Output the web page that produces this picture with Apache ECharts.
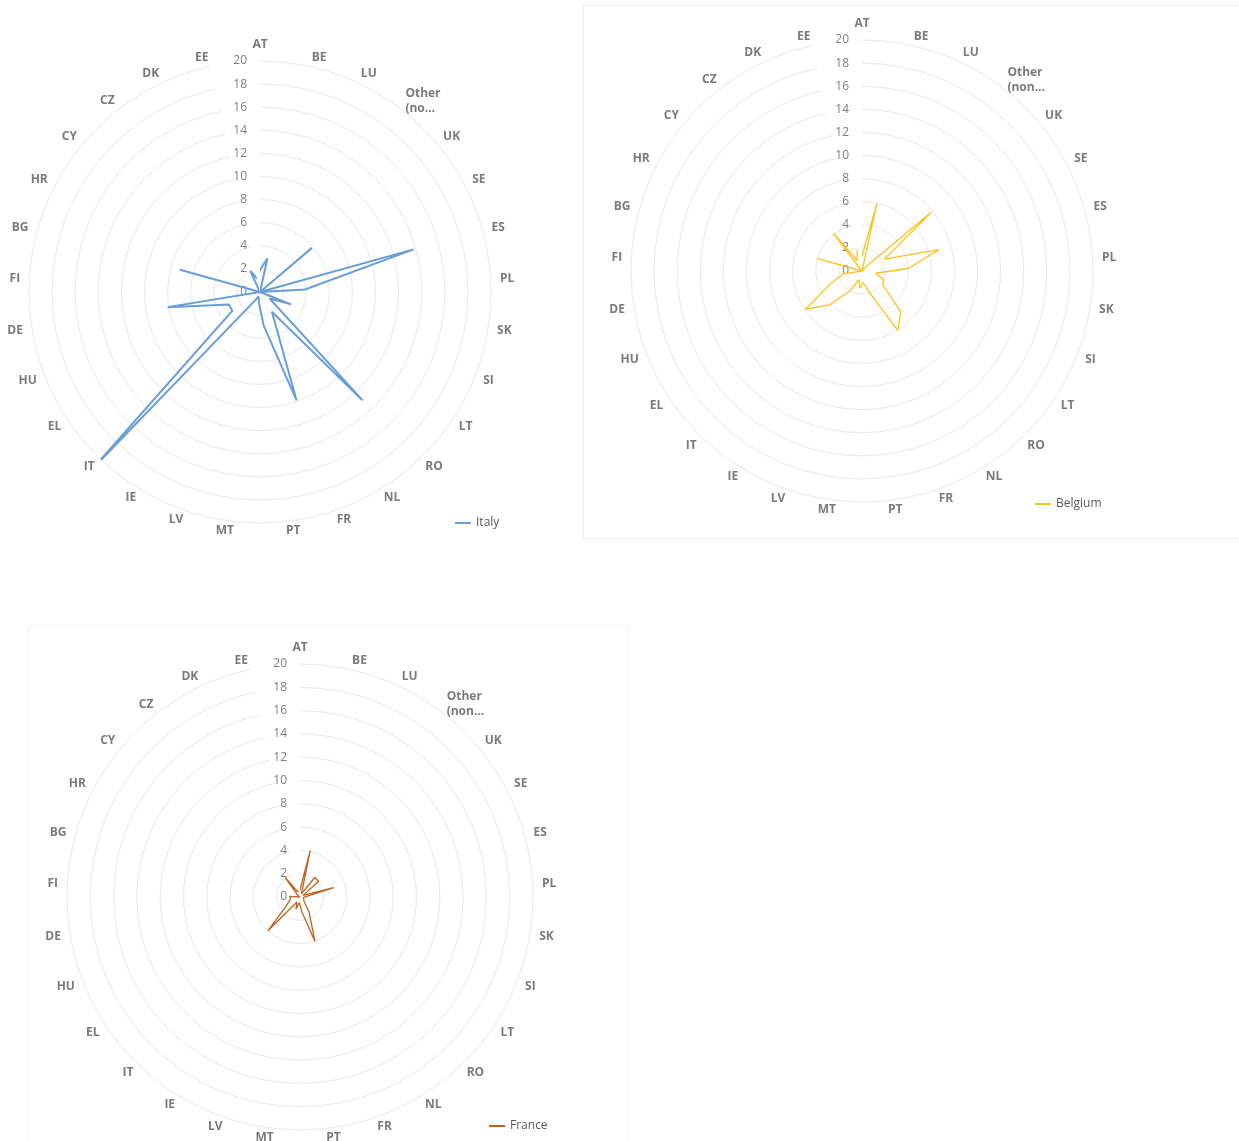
<!DOCTYPE html>
<html>
<head>
<meta charset="utf-8">
<title>Radar charts</title>
<script src="https://cdn.jsdelivr.net/npm/echarts@6/dist/echarts.min.js"></script>
<style>
  html, body { margin: 0; padding: 0; background: #fff; }
  #chart { width: 1239px; height: 1141px; }
</style>
</head>
<body>
<div id="chart"></div>
<script>
// categories, clockwise from the top
const categories = ['AT', 'BE', 'LU', 'Other\n(non...', 'UK', 'SE', 'ES', 'PL', 'SK', 'SI',
  'LT', 'RO', 'NL', 'FR', 'PT', 'MT', 'LV', 'IE', 'IT', 'EL', 'HU', 'DE', 'FI', 'BG',
  'HR', 'CY', 'CZ', 'DK', 'EE']

const italy = [1.9, 3.0, 0, 0, 5.9, 0, 13.8, 3.9, 0, 2.9,
  1.0, 12.9, 2.0, 9.9, 2.9, 0.9, 0.4, 0.9, 20.9, 2.9, 2.9, 8.1, 0, 7.2,
  0, 0, 0, 2.0, 1.2]

const belgium = [1.3, 6.0, 0, 0.3, 7.9, 2.2, 6.9, 4.0, 1.2, 2.0,
  2.2, 4.9, 6.0, 1.9, 1.0, 1.5, 0.8, 2.0, 4.0, 5.9, 2.9, 1.7, 0, 4.0,
  0, 0, 4.1, 1.0, 1.9]

const france = [0.6, 4.1, 0.3, 2.1, 2.1, 0.3, 3.0, 0.5, 0.3, 0.5,
  0.3, 0.5, 1.5, 4.0, 1.2, 0.5, 1.1, 0.5, 4.0, 1.5, 1.0, 0.8, 0.9, 0,
  0, 0.3, 2.1, 0.5, 0.5]

// radial scale
const radiusMin = 0
const radiusMax = 20
const radiusStep = 2
const nameRing = 20.8 // category names sit just outside the outer ring

const charts = [
  { name: 'Italy', values: italy, color: '#6a9fd5', width: 2, center: [260, 292], radius: 231, other: 'Other\n(no...' },
  { name: 'Belgium', values: belgium, color: '#fcc21b', width: 1.3, center: [862, 271], radius: 231, other: 'Other\n(non...' },
  { name: 'France', values: france, color: '#c0621f', width: 1.3, center: [300, 897], radius: 233, other: 'Other\n(non...' }
]

const legendPos = [
  { left: 455, top: 517 },
  { left: 1035, top: 498 },
  { left: 489, top: 1120 }
]

function closedData(values) {
  const data = values.map((v, i) => [v, i])
  data.push([values[0], 0]) // close the loop
  return data
}

// Excel-like category names: vertically centred, pushed away from the ring
function nameData(other) {
  const n = categories.length
  return categories.map((name, i) => {
    const a = i * 2 * Math.PI / n
    const s = Math.sin(a)
    const c = Math.cos(a)
    const align = Math.abs(s) < 0.05 ? 'center' : (s > 0 ? 'left' : 'right')
    const vAlign = c > 0.98 ? 'bottom' : 'middle'
    return {
      name: name.indexOf('Other') === 0 ? other : name,
      value: [nameRing, i],
      label: { align: align, verticalAlign: vAlign }
    }
  })
}

const chartDom = echarts.init(document.getElementById('chart'))

const lineSeries = charts.map((c, idx) => ({
  name: c.name,
  type: 'line',
  coordinateSystem: 'polar',
  polarIndex: idx,
  symbol: 'none',
  data: closedData(c.values),
  lineStyle: { color: c.color, width: c.width },
  itemStyle: { color: c.color },
  clip: false,
  z: 3
}))

const nameSeries = charts.map((c, idx) => ({
  type: 'scatter',
  coordinateSystem: 'polar',
  polarIndex: idx,
  symbolSize: 1,
  itemStyle: { color: 'rgba(0,0,0,0)' },
  clip: false,
  silent: true,
  data: nameData(c.other),
  label: {
    show: true,
    position: 'inside',
    formatter: '{b}',
    color: '#595959',
    fontSize: 12,
    fontWeight: 'bold',
    lineHeight: 15
  }
}))

const option = {
  backgroundColor: '#ffffff',
  animation: false,
  textStyle: { fontFamily: 'Open Sans, Liberation Sans, sans-serif' },
  graphic: [
    { type: 'rect', shape: { x: 583.5, y: 5.5, width: 660, height: 533 }, style: { fill: 'none', stroke: '#efefef', lineWidth: 1 } },
    { type: 'rect', shape: { x: 28.5, y: 625.5, width: 600, height: 530 }, style: { fill: 'none', stroke: '#f3f3f3', lineWidth: 1 } }
  ],
  polar: charts.map(c => ({ center: c.center, radius: c.radius })),
  angleAxis: charts.map((c, idx) => ({
    polarIndex: idx,
    type: 'category',
    data: categories,
    startAngle: 90,
    clockwise: true,
    boundaryGap: false,
    axisLine: { show: false },
    axisTick: { show: false },
    splitLine: { show: false },
    axisLabel: { show: false }
  })),
  radiusAxis: charts.map((c, idx) => ({
    polarIndex: idx,
    type: 'value',
    min: radiusMin,
    max: radiusMax,
    interval: radiusStep,
    axisLine: { show: false },
    axisTick: { show: false },
    splitLine: { show: true, lineStyle: { color: '#e8e8e8', width: 1 } },
    axisLabel: {
      show: true,
      color: '#7f7f7f',
      fontSize: 12,
      margin: 13
    }
  })),
  legend: charts.map((c, idx) => ({
    data: [c.name],
    left: legendPos[idx].left,
    top: legendPos[idx].top,
    padding: 0,
    itemWidth: 16,
    itemHeight: 2,
    icon: 'rect',
    textStyle: { color: '#595959', fontSize: 12 }
  })),
  series: lineSeries.concat(nameSeries)
}
chartDom.setOption(option)
</script>
</body>
</html>
